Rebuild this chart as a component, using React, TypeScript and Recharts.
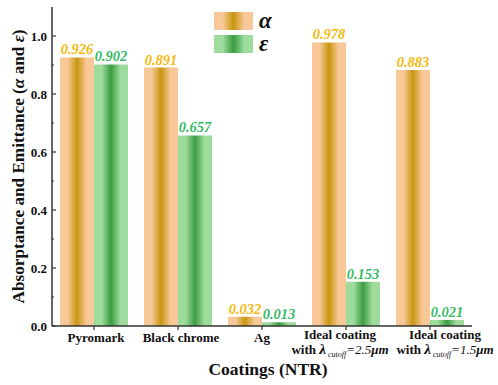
import React from 'react';
import { BarChart, Bar, XAxis, YAxis, LabelList, Legend } from 'recharts';

const categories = ['Pyromark', 'Black chrome', 'Ag', 'Ideal coating 2.5', 'Ideal coating 1.5'];
const alphaValues = [0.926, 0.891, 0.032, 0.978, 0.883];
const epsilonValues = [0.902, 0.657, 0.013, 0.153, 0.021];
const tickLine1 = ['Pyromark', 'Black chrome', 'Ag', 'Ideal coating', 'Ideal coating'];
const cutoffValues = ['', '', '', '2.5', '1.5'];
const yTicks = [0, 0.1, 0.2, 0.3, 0.4, 0.5, 0.6, 0.7, 0.8, 0.9, 1.0];

const data = categories.map((name, i) => ({
  name,
  alpha: alphaValues[i],
  epsilon: epsilonValues[i],
}));

const FONT = '"Liberation Serif", "Times New Roman", serif';
const AXIS = '#333333';
const O_LIGHT = '#f8c898';
const O_DARK = '#c8960e';
const G_LIGHT = '#9edc9e';
const G_DARK = '#3b9d40';
const O_LABEL = '#f5b90c';
const G_LABEL = '#38bb66';
const TICK_SHIFT = [2, 3, 0, -6, 15];

const YTick = (props: any) => {
  const { x, y, index } = props;
  const major = index % 2 === 0;
  return (
    <g>
      <line x1={x} x2={x + (major ? 4 : 2)} y1={y} y2={y} stroke={AXIS} strokeWidth={1.2} />
      {major && (
        <text x={x - 5} y={y} dy="0.35em" textAnchor="end" fontFamily={FONT} fontWeight="bold" fontSize={13} fill="#111">
          {Number(props.payload.value).toFixed(1)}
        </text>
      )}
    </g>
  );
};

const XTick = (props: any) => {
  const { x, y, index } = props;
  const cx = x + (TICK_SHIFT[index] || 0);
  const cut = cutoffValues[index];
  return (
    <g>
      <line x1={x} x2={x} y1={y} y2={y + 4} stroke={AXIS} strokeWidth={1.2} />
      {!cut ? (
        <text x={cx} y={y + 16} textAnchor="middle" fontFamily={FONT} fontWeight="bold" fontSize={13} fill="#111">
          {tickLine1[index]}
        </text>
      ) : (
        <g>
          <text x={cx} y={y + 13} textAnchor="middle" fontFamily={FONT} fontWeight="bold" fontSize={13} fill="#111">
            {tickLine1[index]}
          </text>
          <text x={cx} y={y + 28} textAnchor="middle" fontFamily={FONT} fontWeight="bold" fontSize={13} fill="#111">
            <tspan>with </tspan>
            <tspan fontSize={15} fontStyle="italic">λ</tspan>
            <tspan fontStyle="italic" fontWeight="normal" fontSize={8} dy={3}> cutoff</tspan>
            <tspan fontStyle="italic" fontWeight="normal" dy={-3}>={cut}</tspan>
            <tspan fontStyle="italic">μm</tspan>
          </text>
        </g>
      )}
    </g>
  );
};

const YLabel = (props: any) => {
  const vb = props.viewBox || { x: 0, y: 7, width: 52, height: 319 };
  const cx = vb.x + 18;
  const cy = vb.y + vb.height / 2;
  return (
    <text
      x={cx}
      y={cy}
      transform={`rotate(-90, ${cx}, ${cy})`}
      textAnchor="middle"
      dy="0.35em"
      fontFamily={FONT}
      fontWeight="bold"
      fontSize={17.2}
      fill="#111"
    >
      Absorptance and Emittance (<tspan fontStyle="italic">α</tspan> and <tspan fontStyle="italic">ε</tspan>)
    </text>
  );
};

const XLabel = (props: any) => {
  const vb = props.viewBox || { x: 52, y: 326, width: 420, height: 59 };
  return (
    <text x={vb.x + vb.width / 2 + 6} y={vb.y + 49} textAnchor="middle" fontFamily={FONT} fontWeight="bold" fontSize={17.5} fill="#111">
      Coatings (NTR)
    </text>
  );
};

const grad = (light: string, dark: string) =>
  `linear-gradient(to right, ${light} 0%, ${light} 22%, ${dark} 50%, ${light} 78%, ${light} 100%)`;

const LegendContent = () => (
  <div style={{ fontFamily: FONT }}>
    {[
      { g: grad(O_LIGHT, O_DARK), s: 'α' },
      { g: grad(G_LIGHT, G_DARK), s: 'ε' },
    ].map((it, i) => (
      <div key={i} style={{ display: 'flex', alignItems: 'center', height: 18, marginBottom: 5 }}>
        <div style={{ width: 39, height: 18, background: it.g }} />
        <span style={{ marginLeft: 6, fontSize: 23, fontWeight: 'bold', fontStyle: 'italic', color: '#111', lineHeight: '18px' }}>
          {it.s}
        </span>
      </div>
    ))}
  </div>
);

const labelStyle = (color: string) => ({
  fill: color,
  fontFamily: FONT,
  fontStyle: 'italic',
  fontWeight: 'bold',
  fontSize: 14.5,
});

export default function App() {
  return (
    <div style={{ position: 'absolute', left: 0, top: 0 }}>
      <BarChart
        width={498}
        height={385}
        data={data}
        margin={{ top: 7, right: 26, bottom: 0, left: 0 }}
        barCategoryGap={8}
        barGap={0}
      >
        <defs>
          <linearGradient id="gradA" x1="0" y1="0" x2="1" y2="0">
            <stop offset="0%" stopColor={O_LIGHT} />
            <stop offset="22%" stopColor={O_LIGHT} />
            <stop offset="50%" stopColor={O_DARK} />
            <stop offset="78%" stopColor={O_LIGHT} />
            <stop offset="100%" stopColor={O_LIGHT} />
          </linearGradient>
          <linearGradient id="gradE" x1="0" y1="0" x2="1" y2="0">
            <stop offset="0%" stopColor={G_LIGHT} />
            <stop offset="22%" stopColor={G_LIGHT} />
            <stop offset="50%" stopColor={G_DARK} />
            <stop offset="78%" stopColor={G_LIGHT} />
            <stop offset="100%" stopColor={G_LIGHT} />
          </linearGradient>
        </defs>
        <XAxis
          dataKey="name"
          height={59}
          interval={0}
          tickSize={0}
          tickMargin={0}
          tickLine={false}
          axisLine={{ stroke: AXIS, strokeWidth: 1.5 }}
          tick={(p: any) => <XTick {...p} />}
          label={(p: any) => <XLabel {...p} />}
        />
        <XAxis
          xAxisId="top"
          dataKey="name"
          orientation="top"
          height={0}
          tick={false}
          tickLine={false}
          axisLine={{ stroke: AXIS, strokeWidth: 1.5 }}
        />
        <YAxis
          width={52}
          domain={[0, 1.1]}
          ticks={yTicks}
          interval={0}
          tickSize={0}
          tickMargin={0}
          tickLine={false}
          axisLine={{ stroke: AXIS, strokeWidth: 1.5 }}
          tick={(p: any) => <YTick {...p} />}
          label={(p: any) => <YLabel {...p} />}
        />
        <YAxis
          yAxisId="right"
          orientation="right"
          width={0}
          domain={[0, 1.1]}
          tick={false}
          tickLine={false}
          axisLine={{ stroke: AXIS, strokeWidth: 1.5 }}
        />
        <Legend
          layout="horizontal"
          verticalAlign="middle"
          align="center"
          wrapperStyle={{ position: 'absolute', left: 214, top: 12, width: 80, height: 46 }}
          content={() => <LegendContent />}
        />
        <Bar dataKey="alpha" fill="url(#gradA)" isAnimationActive={false}>
          <LabelList dataKey="alpha" position="top" offset={3} formatter={(v: any) => Number(v).toFixed(3)} style={labelStyle(O_LABEL)} />
        </Bar>
        <Bar dataKey="epsilon" fill="url(#gradE)" isAnimationActive={false}>
          <LabelList dataKey="epsilon" position="top" offset={3} formatter={(v: any) => Number(v).toFixed(3)} style={labelStyle(G_LABEL)} />
        </Bar>
      </BarChart>
    </div>
  );
}
